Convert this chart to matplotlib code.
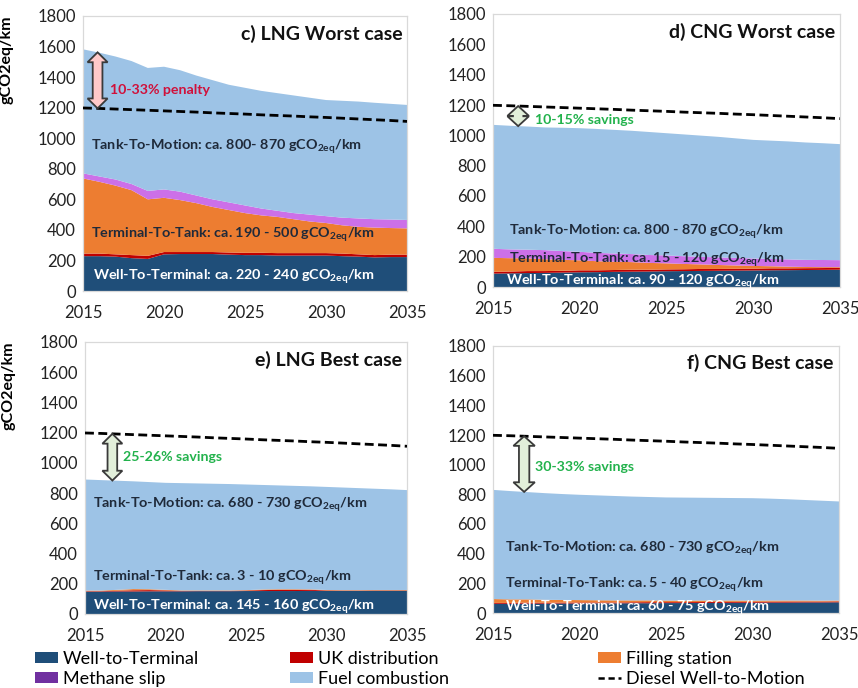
import matplotlib
matplotlib.use("Agg")
import matplotlib.pyplot as plt
import numpy as np
from matplotlib.patches import Polygon, Patch
from matplotlib.lines import Line2D

plt.rcParams['font.family'] = ['Lato', 'DejaVu Sans']
plt.rcParams['mathtext.fontset'] = 'custom'
plt.rcParams['mathtext.rm'] = 'Lato'
plt.rcParams['mathtext.bf'] = 'Lato:bold'

years = list(range(2015, 2036))

diesel = [1198, 1195, 1191, 1187, 1183, 1179, 1175, 1171, 1166, 1162, 1158,
          1153, 1149, 1145, 1140, 1136, 1131, 1126, 1121, 1116, 1110]

# c) LNG Worst case
wtt_c = [228, 228, 225, 215, 210, 240, 242, 242, 242, 238, 235, 235, 232, 232, 232, 232, 228, 225, 220, 222, 222]
uk_c = [17, 17, 15, 20, 20, 15, 13, 13, 13, 14, 15, 15, 16, 16, 16, 16, 17, 15, 15, 16, 16]
fill_c = [492, 470, 450, 425, 370, 355, 340, 320, 295, 278, 260, 245, 237, 222, 207, 197, 185, 180, 180, 174, 172]
slip_c = [33, 35, 40, 40, 55, 55, 55, 50, 50, 50, 50, 45, 40, 40, 45, 45, 50, 55, 55, 56, 55]
comb_c = [812, 810, 805, 805, 805, 803, 795, 785, 780, 770, 770, 770, 770, 770, 765, 760, 765, 765, 762, 757, 753]

# d) CNG Worst case
wtt_d = [88, 90, 92, 93, 95, 97, 98, 100, 101, 102, 104, 105, 106, 107, 108, 109, 110, 111, 112, 113, 114]
uk_d = [12, 12, 13, 12, 12, 13, 12, 12, 13, 12, 12, 12, 13, 12, 12, 12, 13, 12, 12, 12, 12]
fill_d = [92, 88, 84, 78, 72, 66, 60, 55, 50, 45, 40, 35, 30, 26, 22, 18, 14, 11, 8, 6, 5]
slip_d = [60, 58, 57, 60, 58, 56, 55, 54, 53, 52, 52, 51, 50, 50, 50, 49, 48, 48, 47, 47, 46]
comb_d = [817, 815, 812, 809, 813, 815, 817, 815, 813, 811, 806, 803, 799, 795, 788, 782, 780, 778, 774, 770, 765]

# e) LNG Best case
wtt_e = [148, 148, 149, 149, 150, 150, 150, 151, 151, 151, 152, 152, 152, 152, 153, 153, 153, 153, 154, 154, 154]
uk_e = [3, 3, 5, 8, 8, 6, 3, 2, 2, 2, 3, 6, 8, 8, 7, 3, 2, 2, 2, 2, 2]
fill_e = [4, 4, 6, 8, 6, 4, 3, 3, 3, 3, 3, 4, 4, 4, 3, 3, 3, 3, 3, 3, 3]
slip_e = [0] * 21
comb_e = [735, 731, 722, 713, 709, 708, 710, 708, 706, 704, 699, 692, 687, 684, 682, 682, 679, 675, 670, 666, 661]

# f) CNG Best case
wtt_f = [62, 62, 63, 63, 64, 64, 65, 65, 66, 66, 67, 67, 68, 68, 69, 69, 70, 70, 71, 71, 72]
uk_f = [6, 6, 7, 6, 6, 7, 6, 6, 6, 7, 6, 6, 6, 7, 6, 6, 6, 7, 6, 6, 6]
fill_f = [26, 24, 22, 20, 18, 16, 15, 14, 13, 12, 11, 10, 10, 9, 9, 8, 8, 7, 7, 6, 6]
slip_f = [0] * 21
comb_f = [736, 730, 723, 719, 714, 710, 707, 704, 700, 697, 695, 695, 693, 692, 691, 691, 687, 683, 678, 674, 668]

xticks = [2015, 2020, 2025, 2030, 2035]
yticks = [0, 200, 400, 600, 800, 1000, 1200, 1400, 1600, 1800]

C_WTT = '#1F4E79'
C_UK = '#C00000'
C_FILL = '#ED7D31'
C_SLIP = '#CC70E8'
C_SLIP_LEG = '#7030A0'
C_COMB = '#9DC3E6'
C_TXT = '#1F2A3A'
RED_TXT = '#D0103A'
GREEN_TXT = '#22B24C'

W, H = 858, 688
fig = plt.figure(figsize=(W / 100, H / 100), dpi=100)


def px_axes(x0, y0, x1, y1):
    return fig.add_axes([x0 / W, (H - y1) / H, (x1 - x0) / W, (y1 - y0) / H])


def block_arrow(ax, x, ya, yb, fc, hw, sw, hl):
    y0, y1 = min(ya, yb), max(ya, yb)
    hl = min(hl, (y1 - y0) / 2)
    verts = [(x, y0), (x + hw, y0 + hl), (x + sw, y0 + hl), (x + sw, y1 - hl),
             (x + hw, y1 - hl), (x, y1), (x - hw, y1 - hl), (x - sw, y1 - hl),
             (x - sw, y0 + hl), (x - hw, y0 + hl)]
    ax.add_patch(Polygon(verts, closed=True, fc=fc, ec='#3A3A3A', lw=1.3, zorder=5))


def sub(s):
    return s + r" gCO$_{\mathbf{2eq}}$/km"


panels = [
    dict(box=(83, 16, 407, 291), data=(wtt_c, uk_c, fill_c, slip_c, comb_c),
         title='c) LNG Worst case', ylabel=True,
         arrow=(2015.9, '#FFC9C9'), note=('10-33% penalty', RED_TXT, 2016.65, 1316),
         texts=[('Tank-To-Motion: ca. 800- 870', 2015.5, 945, C_TXT),
                ('Terminal-To-Tank: ca. 190 - 500', 2015.5, 367, C_TXT),
                ('Well-To-Terminal: ca. 220 - 240', 2015.6, 94, 'white')]),
    dict(box=(493, 14, 840, 287), data=(wtt_d, uk_d, fill_d, slip_d, comb_d),
         title='d) CNG Worst case', ylabel=False,
         arrow=(2016.45, '#E2EFDA'), note=('10-15% savings', GREEN_TXT, 2017.4, 1101),
         texts=[('Tank-To-Motion: ca. 800 - 870', 2015.9, 367, C_TXT),
                ('Terminal-To-Tank: ca. 15 - 120', 2015.9, 180, C_TXT),
                ('Well-To-Terminal: ca. 90 - 120', 2015.75, 37, 'white')]),
    dict(box=(85, 342, 407, 614), data=(wtt_e, uk_e, fill_e, slip_e, comb_e),
         title='e) LNG Best case', ylabel=True,
         arrow=(2016.7, '#E2EFDA'), note=('25-26% savings', GREEN_TXT, 2017.35, 1039),
         texts=[('Tank-To-Motion: ca. 680 - 730', 2015.5, 727, C_TXT),
                ('Terminal-To-Tank: ca. 3 - 10', 2015.5, 242, C_TXT),
                ('Well-To-Terminal: ca. 145 - 160', 2015.5, 48, 'white')]),
    dict(box=(493, 346, 839, 613), data=(wtt_f, uk_f, fill_f, slip_f, comb_f),
         title='f) CNG Best case', ylabel=False,
         arrow=(2016.8, '#E2EFDA'), note=('30-33% savings', GREEN_TXT, 2017.4, 984),
         texts=[('Tank-To-Motion: ca. 680 - 730', 2015.7, 438, C_TXT),
                ('Terminal-To-Tank: ca. 5 - 40', 2015.7, 190, C_TXT),
                ('Well-To-Terminal: ca. 60 - 75', 2015.7, 40, 'white')]),
]

for p in panels:
    ax = px_axes(*p['box'])
    wtt, uk, fill, slip, comb = p['data']
    ax.stackplot(years, wtt, uk, fill, slip, comb,
                 colors=[C_WTT, C_UK, C_FILL, C_SLIP, C_COMB], lw=0, zorder=2)
    ax.plot(years, diesel, color='black', lw=2.0, dashes=(3.2, 1.6), zorder=4)
    ax.set_xlim(2015, 2035)
    ax.set_ylim(0, 1800)
    ax.set_xticks(xticks)
    ax.set_yticks(yticks)
    ax.tick_params(length=0, labelsize=12, pad=5, colors='#222222')
    ax.tick_params(axis='x', pad=10)
    for s in ax.spines.values():
        s.set_color('#D9D9D9')
        s.set_linewidth(0.9)
    ax.text(0.985, 0.935, p['title'], transform=ax.transAxes, ha='right', va='center',
            fontsize=14, fontweight='bold', color='#111111')
    if p['ylabel']:
        ax.set_ylabel('gCO2eq/km', fontsize=11.5, fontweight='bold')
        ax.yaxis.set_label_coords(-0.215, 0.84)
    total = np.sum(np.array(p['data']), axis=0)
    xa, fc = p['arrow']
    ya = np.interp(xa, years, diesel)
    yb = np.interp(xa, years, total)
    block_arrow(ax, xa, ya, yb, fc, hw=0.62, sw=0.3, hl=65)
    t, col, tx, ty = p['note']
    ax.text(tx, ty, t, color=col, fontsize=10.2, fontweight='bold', va='center', ha='left', zorder=6)
    for s, tx, ty, col in p['texts']:
        ax.text(tx, ty, sub(s), color=col, fontsize=10.4, fontweight='bold', va='center',
                ha='left', zorder=6)

# Legend
cols = [
    (35, [Patch(fc=C_WTT), Patch(fc=C_SLIP_LEG)], ['Well-to-Terminal', 'Methane slip']),
    (290, [Patch(fc=C_UK), Patch(fc=C_COMB)], ['UK distribution', 'Fuel combustion']),
    (598, [Patch(fc=C_FILL), Line2D([], [], color='black', lw=1.8, dashes=(2.5, 1.5))],
     ['Filling station', 'Diesel Well-to-Motion']),
]
for x, hs, ls in cols:
    fig.legend(hs, ls, loc='upper left', bbox_to_anchor=(x / W, (H - 651) / H),
               frameon=False, fontsize=13, handlelength=1.25, handleheight=0.6,
               handletextpad=0.3, labelspacing=0.22, borderaxespad=0, borderpad=0)

fig.savefig('out.png', dpi=100)
